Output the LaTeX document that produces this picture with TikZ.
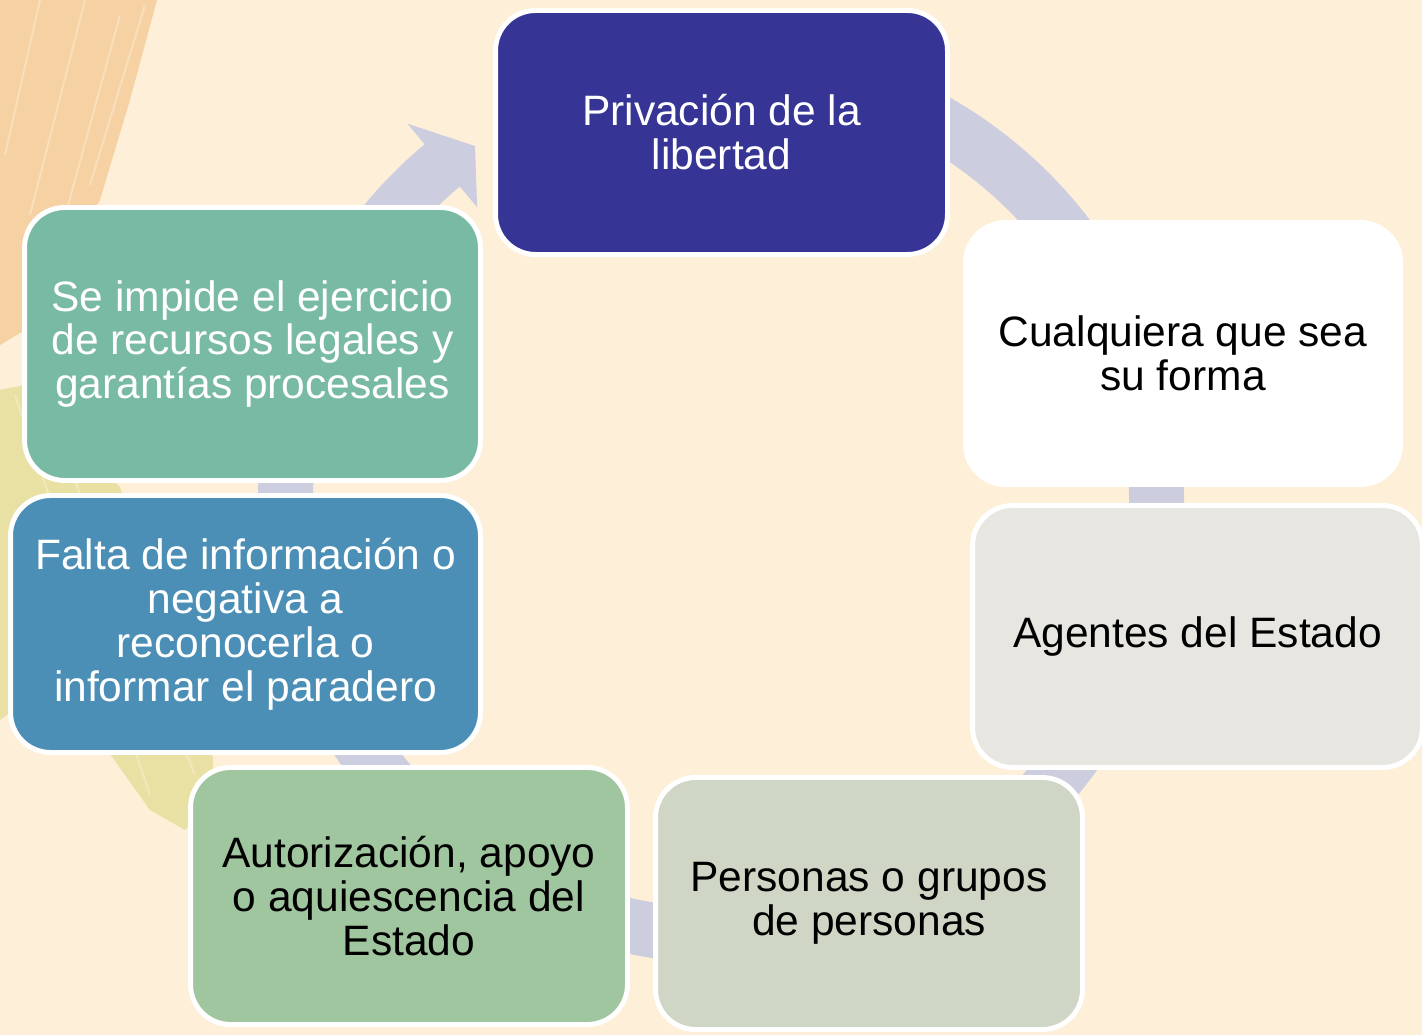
\documentclass[tikz,border=0pt]{standalone}
\usepackage{fontspec}
\setmainfont{Liberation Sans}
\usetikzlibrary{calc}

\definecolor{fondo}{HTML}{FEF0D8}
\definecolor{anillocol}{HTML}{CDCDE0}
\definecolor{naranja}{HTML}{F6D1A3}
\definecolor{amarillo}{HTML}{E8E1A3}
\definecolor{privcol}{HTML}{363596}
\definecolor{impidecol}{HTML}{79BAA5}
\definecolor{faltacol}{HTML}{4B8FB6}
\definecolor{autorizcol}{HTML}{A0C69F}
\definecolor{personascol}{HTML}{CFD6C5}
\definecolor{agentescol}{HTML}{E7E6E1}

\tikzstyle{caja}=[rectangle, rounded corners=0.8cm, draw=white, line width=2.8pt, align=center, inner sep=0pt, font=\fontsize{24.2}{25}\selectfont]
\tikzstyle{anillo}=[draw=anillocol, line width=1.1cm]
\tikzstyle{veta}=[draw=fondo, opacity=0.45, line width=1.2pt]

\begin{document}
\begin{tikzpicture}[x=0.02cm, y=0.02cm]
    \fill[fondo] (0, 0) rectangle (1422, 1035);
    \useasboundingbox (0, 0) rectangle (1422, 1035);

    % brush strokes on the left
    \fill[naranja] (0, 1035) -- (157, 1035) -- (130, 935) -- (100, 835) -- (60, 765) -- (25, 705) -- (0, 690) -- cycle;
    \draw[veta] (40, 1035) -- (5, 880);
    \draw[veta] (85, 1035) -- (30, 820);
    \draw[veta] (120, 1020) -- (60, 800);
    \draw[veta] (145, 1030) -- (90, 850);
    \fill[amarillo] (0, 645) -- (25, 650) -- (60, 605) -- (120, 548) -- (190, 335) -- (213, 277) -- (212, 235) -- (185, 205) -- (150, 225) -- (100, 295) -- (40, 345) -- (0, 315) -- cycle;
    \draw[veta] (15, 640) -- (150, 240);
    \draw[veta] (60, 590) -- (195, 260);

    % cycle arrow
    \coordinate (centro) at (721, 535);
    \draw[anillo] ($(centro) + (100:435.5)$) arc[start angle=100, end angle=-230.5, radius=435.5];
    \fill[anillocol] ($(centro) + (129.8:490)$) -- ($(centro) + (124.8:431)$) -- ($(centro) + (129.8:381)$) -- cycle;

    \node[caja, fill=privcol, text=white, minimum width=9.04cm, minimum height=4.88cm] (priv) at (721.5, 902.5) {Privación de la\\libertad};
    \node[caja, fill=white, minimum width=8.70cm, minimum height=5.24cm] (forma) at (1183, 681.5) {Cualquiera que sea\\su forma};
    \node[caja, fill=agentescol, minimum width=9.00cm, minimum height=5.24cm] (agentes) at (1197.5, 398.5) {Agentes del Estado};
    \node[caja, fill=personascol, minimum width=8.54cm, minimum height=5.04cm] (personas) at (869, 131.5) {Personas o grupos\\de personas};
    \node[caja, fill=autorizcol, minimum width=8.74cm, minimum height=5.14cm] (autoriz) at (409, 139) {Autorización, apoyo\\o aquiescencia del\\Estado};
    \node[caja, fill=faltacol, text=white, minimum width=9.40cm, minimum height=5.14cm] (falta) at (245.5, 411) {Falta de información o\\negativa a\\reconocerla o\\informar el paradero};
    \node[caja, fill=impidecol, text=white, minimum width=9.12cm, minimum height=5.46cm] (impide) at (252.5, 691) {Se impide el ejercicio\\de recursos legales y\\garantías procesales};
\end{tikzpicture}
\end{document}
